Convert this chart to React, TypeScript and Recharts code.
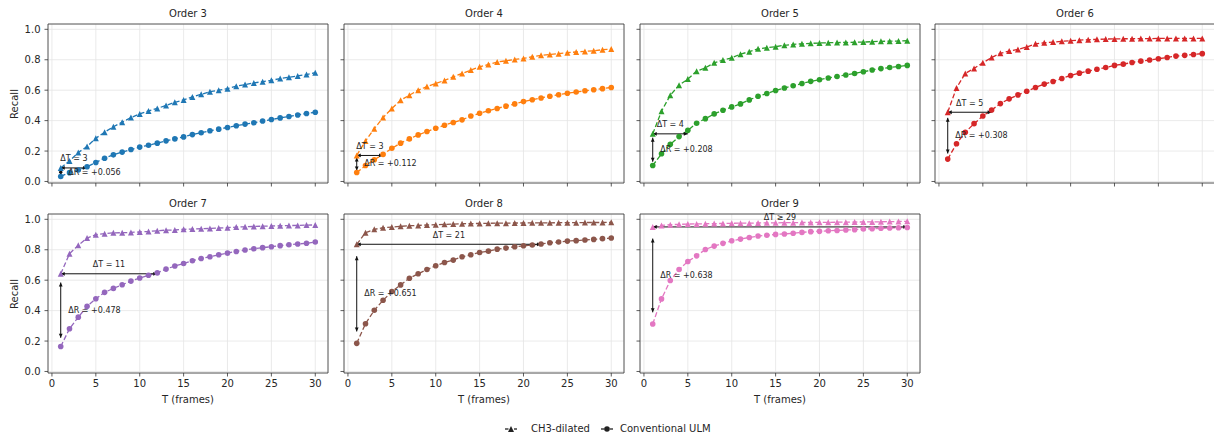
import React from "react";
import {
  CartesianGrid,
  Line,
  LineChart,
  ReferenceArea,
  ReferenceDot,
  ReferenceLine,
  XAxis,
  YAxis,
} from "recharts";

const T_FRAMES = [1, 2, 3, 4, 5, 6, 7, 8, 9, 10, 11, 12, 13, 14, 15, 16, 17, 18, 19, 20, 21, 22, 23, 24, 25, 26, 27, 28, 29, 30];
const X_TICKS = [0, 5, 10, 15, 20, 25, 30];
const Y_TICKS = [0, 0.2, 0.4, 0.6, 0.8, 1.0];

const ORDER3_CH3 = [0.089, 0.135, 0.19, 0.23, 0.284, 0.324, 0.36, 0.39, 0.42, 0.444, 0.464, 0.48, 0.5, 0.52, 0.536, 0.556, 0.573, 0.59, 0.6, 0.61, 0.626, 0.637, 0.648, 0.656, 0.665, 0.676, 0.685, 0.694, 0.703, 0.715];
const ORDER3_CONV = [0.033, 0.058, 0.075, 0.097, 0.125, 0.153, 0.175, 0.193, 0.21, 0.226, 0.238, 0.252, 0.267, 0.28, 0.293, 0.308, 0.32, 0.333, 0.344, 0.355, 0.366, 0.377, 0.386, 0.397, 0.407, 0.418, 0.427, 0.437, 0.447, 0.455];
const ORDER4_CH3 = [0.171, 0.266, 0.347, 0.42, 0.479, 0.534, 0.567, 0.6, 0.624, 0.644, 0.664, 0.688, 0.71, 0.732, 0.754, 0.769, 0.785, 0.793, 0.802, 0.809, 0.82, 0.829, 0.835, 0.84, 0.846, 0.851, 0.855, 0.859, 0.866, 0.87];
const ORDER4_CONV = [0.059, 0.105, 0.143, 0.178, 0.218, 0.252, 0.28, 0.306, 0.328, 0.35, 0.37, 0.388, 0.405, 0.43, 0.448, 0.465, 0.48, 0.495, 0.51, 0.525, 0.537, 0.549, 0.56, 0.57, 0.58, 0.588, 0.596, 0.603, 0.61, 0.618];
const ORDER5_CH3 = [0.313, 0.462, 0.567, 0.633, 0.673, 0.725, 0.747, 0.78, 0.798, 0.813, 0.837, 0.853, 0.872, 0.879, 0.886, 0.895, 0.901, 0.905, 0.908, 0.91, 0.912, 0.913, 0.914, 0.915, 0.916, 0.919, 0.921, 0.922, 0.923, 0.925];
const ORDER5_CONV = [0.105, 0.182, 0.244, 0.295, 0.336, 0.383, 0.413, 0.444, 0.468, 0.49, 0.51, 0.536, 0.56, 0.578, 0.598, 0.614, 0.629, 0.644, 0.658, 0.669, 0.68, 0.69, 0.7, 0.71, 0.721, 0.733, 0.742, 0.749, 0.756, 0.763];
const ORDER6_CH3 = [0.455, 0.615, 0.71, 0.743, 0.78, 0.815, 0.842, 0.857, 0.868, 0.884, 0.905, 0.912, 0.916, 0.921, 0.925, 0.929, 0.932, 0.934, 0.936, 0.937, 0.938, 0.938, 0.939, 0.939, 0.94, 0.94, 0.94, 0.94, 0.94, 0.94];
const ORDER6_CONV = [0.147, 0.248, 0.323, 0.38, 0.43, 0.47, 0.512, 0.543, 0.569, 0.593, 0.618, 0.64, 0.657, 0.677, 0.697, 0.712, 0.725, 0.738, 0.749, 0.763, 0.771, 0.782, 0.791, 0.798, 0.807, 0.815, 0.824, 0.829, 0.835, 0.84];
const ORDER7_CH3 = [0.642, 0.774, 0.83, 0.877, 0.899, 0.906, 0.911, 0.912, 0.914, 0.917, 0.92, 0.925, 0.929, 0.93, 0.934, 0.936, 0.938, 0.94, 0.943, 0.945, 0.949, 0.951, 0.953, 0.955, 0.956, 0.958, 0.959, 0.96, 0.962, 0.963];
const ORDER7_CONV = [0.164, 0.281, 0.357, 0.428, 0.478, 0.52, 0.546, 0.57, 0.594, 0.614, 0.632, 0.648, 0.673, 0.693, 0.71, 0.728, 0.743, 0.754, 0.767, 0.778, 0.789, 0.798, 0.807, 0.814, 0.82, 0.827, 0.833, 0.838, 0.843, 0.851];
const ORDER8_CH3 = [0.836, 0.912, 0.934, 0.945, 0.949, 0.954, 0.958, 0.96, 0.963, 0.965, 0.967, 0.969, 0.971, 0.972, 0.973, 0.974, 0.975, 0.975, 0.976, 0.976, 0.977, 0.977, 0.977, 0.978, 0.978, 0.978, 0.979, 0.979, 0.979, 0.98];
const ORDER8_CONV = [0.185, 0.314, 0.402, 0.468, 0.525, 0.569, 0.613, 0.642, 0.67, 0.695, 0.716, 0.732, 0.754, 0.767, 0.782, 0.791, 0.804, 0.811, 0.82, 0.826, 0.831, 0.838, 0.846, 0.851, 0.857, 0.86, 0.864, 0.868, 0.873, 0.877];
const ORDER9_CH3 = [0.95, 0.96, 0.965, 0.967, 0.969, 0.97, 0.971, 0.972, 0.973, 0.974, 0.975, 0.975, 0.976, 0.977, 0.977, 0.978, 0.978, 0.979, 0.979, 0.98, 0.98, 0.981, 0.981, 0.982, 0.983, 0.983, 0.984, 0.985, 0.986, 0.987];
const ORDER9_CONV = [0.312, 0.477, 0.598, 0.67, 0.723, 0.76, 0.802, 0.824, 0.842, 0.859, 0.87, 0.881, 0.89, 0.895, 0.901, 0.904, 0.908, 0.914, 0.919, 0.921, 0.925, 0.927, 0.93, 0.932, 0.936, 0.938, 0.941, 0.943, 0.945, 0.946];

const ORDERS = [3, 4, 5, 6, 7, 8, 9];
const CH3_SERIES = [ORDER3_CH3, ORDER4_CH3, ORDER5_CH3, ORDER6_CH3, ORDER7_CH3, ORDER8_CH3, ORDER9_CH3];
const CONV_SERIES = [ORDER3_CONV, ORDER4_CONV, ORDER5_CONV, ORDER6_CONV, ORDER7_CONV, ORDER8_CONV, ORDER9_CONV];
const COLORS = ["#1f77b4", "#ff7f0e", "#2ca02c", "#d62728", "#9467bd", "#8c564b", "#e377c2"];
const DELTA_T_LABELS = ["ΔT = 3", "ΔT = 3", "ΔT = 4", "ΔT = 5", "ΔT = 11", "ΔT = 21", "ΔT ≥ 29"];
const DELTA_T_END = [4, 4, 5, 6, 12, 22, 30];
const DELTA_R_LABELS = ["ΔR = +0.056", "ΔR = +0.112", "ΔR = +0.208", "ΔR = +0.308", "ΔR = +0.478", "ΔR = +0.651", "ΔR = +0.638"];

const COL_LEFT = [48, 344, 640, 935];
const ROW_TOP = [24, 214];
const PLOT_W = 280;
const PLOT_H = 159;
const PAD_L = 40;
const PAD_T = 6;
const PAD_R = 4;
const PAD_B = 30;
const X_DOMAIN: [number, number] = [-0.45, 31.45];
const Y_DOMAIN: [number, number] = [-0.01, 1.035];
const FONT = '"DejaVu Sans", Verdana, sans-serif';
const INK = "#262626";

function triangleDot(color: string) {
  return (props: any) => {
    const { cx, cy, index } = props;
    if (cx == null || cy == null) return <g key={index} />;
    const s = 3;
    return (
      <polygon
        key={index}
        points={`${cx},${cy - s} ${cx - s},${cy + s} ${cx + s},${cy + s}`}
        fill={color}
      />
    );
  };
}

function circleDot(color: string) {
  return (props: any) => {
    const { cx, cy, index } = props;
    if (cx == null || cy == null) return <g key={index} />;
    return <circle key={index} cx={cx} cy={cy} r={2.8} fill={color} />;
  };
}

// double-headed arrow between the two reference points
function arrowShape(props: any) {
  const { x1, y1, x2, y2 } = props;
  const dx = x2 - x1;
  const dy = y2 - y1;
  const len = Math.hypot(dx, dy) || 1;
  const ux = dx / len;
  const uy = dy / len;
  const hl = 4;
  const hw = 1.9;
  const head = (px: number, py: number, dirx: number, diry: number) =>
    `${px},${py} ${px - dirx * hl - diry * hw},${py - diry * hl + dirx * hw} ${px - dirx * hl + diry * hw},${py - diry * hl - dirx * hw}`;
  return (
    <g>
      <line x1={x1} y1={y1} x2={x2} y2={y2} stroke="#111" strokeWidth={1} />
      <polygon points={head(x2, y2, ux, uy)} fill="#111" />
      <polygon points={head(x1, y1, -ux, -uy)} fill="#111" />
    </g>
  );
}

function Panel({ idx, col, row }: { idx: number; col: number; row: number }) {
  const ch3 = CH3_SERIES[idx];
  const conv = CONV_SERIES[idx];
  const color = COLORS[idx];
  const data = T_FRAMES.map((t, i) => ({ t, ch3: ch3[i], conv: conv[i] }));
  const top = ch3[0];
  const bottom = conv[0];
  const dr = top - bottom;
  const tEnd = DELTA_T_END[idx];
  const showX = row === 1;
  const showY = col === 0;
  const tickStyle = { fontSize: 10, fill: INK, fontFamily: FONT };

  return (
    <div
      style={{
        position: "absolute",
        left: COL_LEFT[col] - PAD_L,
        top: ROW_TOP[row] - PAD_T,
      }}
    >
      <LineChart
        width={PLOT_W + PAD_L + PAD_R}
        height={PLOT_H + PAD_T + PAD_B}
        data={data}
        margin={{ top: PAD_T, right: PAD_R, left: 0, bottom: 0 }}
      >
        <CartesianGrid stroke="#e4e4e4" strokeWidth={0.8} />
        <XAxis
          type="number"
          dataKey="t"
          domain={X_DOMAIN}
          allowDataOverflow
          ticks={X_TICKS}
          interval={0}
          height={PAD_B}
          axisLine={false}
          tickSize={3.5}
          tickMargin={3}
          tickLine={{ stroke: "#333", strokeWidth: 0.8 }}
          tick={tickStyle}
          tickFormatter={showX ? (v: number) => String(v) : () => ""}
        />
        <YAxis
          type="number"
          domain={Y_DOMAIN}
          allowDataOverflow
          ticks={Y_TICKS}
          interval={0}
          width={PAD_L}
          axisLine={false}
          tickSize={3.5}
          tickMargin={4}
          tickLine={{ stroke: "#333", strokeWidth: 0.8 }}
          tick={tickStyle}
          tickFormatter={showY ? (v: number) => v.toFixed(1) : () => ""}
        />
        <ReferenceArea
          x1={X_DOMAIN[0]}
          x2={X_DOMAIN[1]}
          y1={Y_DOMAIN[0]}
          y2={Y_DOMAIN[1]}
          fill="none"
          stroke="#333"
          strokeWidth={0.8}
          ifOverflow="visible"
        />
        <Line
          type="linear"
          dataKey="conv"
          stroke={color}
          strokeWidth={1.3}
          strokeDasharray="5 2.4"
          dot={circleDot(color)}
          activeDot={false}
          isAnimationActive={false}
        />
        <Line
          type="linear"
          dataKey="ch3"
          stroke={color}
          strokeWidth={1.3}
          strokeDasharray="5 2.4"
          dot={triangleDot(color)}
          activeDot={false}
          isAnimationActive={false}
        />
        <ReferenceLine
          segment={[
            { x: 1, y: top },
            { x: tEnd, y: top },
          ]}
          ifOverflow="visible"
          shape={arrowShape}
        />
        <ReferenceLine
          segment={[
            { x: 1, y: bottom + dr * 0.12 },
            { x: 1, y: top - dr * 0.12 },
          ]}
          ifOverflow="visible"
          shape={arrowShape}
        />
        <ReferenceDot
          x={(1 + tEnd) / 2}
          y={top}
          ifOverflow="visible"
          shape={(p: any) => (
            <text
              x={p.cx}
              y={p.cy - 9}
              textAnchor="middle"
              dominantBaseline="central"
              fontSize={8}
              fontFamily={FONT}
              fill={INK}
            >
              {DELTA_T_LABELS[idx]}
            </text>
          )}
        />
        <ReferenceDot
          x={1}
          y={(top + bottom) / 2}
          ifOverflow="visible"
          shape={(p: any) => (
            <text
              x={p.cx + 7.5}
              y={p.cy}
              textAnchor="start"
              dominantBaseline="central"
              fontSize={8}
              fontFamily={FONT}
              fill={INK}
            >
              {DELTA_R_LABELS[idx]}
            </text>
          )}
        />
      </LineChart>
    </div>
  );
}

function centered(text: string, cx: number, cy: number, size: number, extra: React.CSSProperties = {}) {
  return (
    <div
      key={`${text}-${cx}-${cy}`}
      style={{
        position: "absolute",
        left: cx - 100,
        top: cy - 8,
        width: 200,
        height: 16,
        lineHeight: "16px",
        textAlign: "center",
        fontSize: size,
        color: INK,
        whiteSpace: "nowrap",
        ...extra,
      }}
    >
      {text}
    </div>
  );
}

function LegendItem({ left, marker, label, textLeft }: { left: number; marker: "tri" | "dot"; label: string; textLeft: number }) {
  return (
    <>
      <svg style={{ position: "absolute", left, top: 425 }} width={14} height={8}>
        <line x1={0} y1={4} x2={3.5} y2={4} stroke="#222" strokeWidth={1.3} />
        <line x1={9} y1={4} x2={12} y2={4} stroke="#222" strokeWidth={1.3} />
        {marker === "tri" ? (
          <polygon points="6,1 3,7 9,7" fill="#222" />
        ) : (
          <circle cx={6} cy={4} r={2.8} fill="#222" />
        )}
      </svg>
      <div
        style={{
          position: "absolute",
          left: textLeft,
          top: 421,
          height: 16,
          lineHeight: "16px",
          fontSize: 10,
          color: INK,
          whiteSpace: "nowrap",
        }}
      >
        {label}
      </div>
    </>
  );
}

export default function App() {
  const titleY = [14, 204];
  return (
    <div
      style={{
        position: "absolute",
        left: 0,
        top: 0,
        width: 1214,
        height: 438,
        overflow: "hidden",
        background: "#fff",
        fontFamily: FONT,
      }}
    >
      {ORDERS.map((order, idx) => {
        const row = idx < 4 ? 0 : 1;
        const col = idx < 4 ? idx : idx - 4;
        return (
          <React.Fragment key={order}>
            <Panel idx={idx} col={col} row={row} />
            {centered(`Order ${order}`, COL_LEFT[col] + PLOT_W / 2, titleY[row], 10)}
            {row === 1 && centered("T (frames)", COL_LEFT[col] + PLOT_W / 2, 400, 10)}
          </React.Fragment>
        );
      })}
      {ROW_TOP.map((t) =>
        centered("Recall", 15, t + PLOT_H / 2, 10, { transform: "rotate(-90deg)" })
      )}
      <LegendItem left={505} marker="tri" label="CH3-dilated" textLeft={531} />
      <LegendItem left={601} marker="dot" label="Conventional ULM" textLeft={620} />
    </div>
  );
}
